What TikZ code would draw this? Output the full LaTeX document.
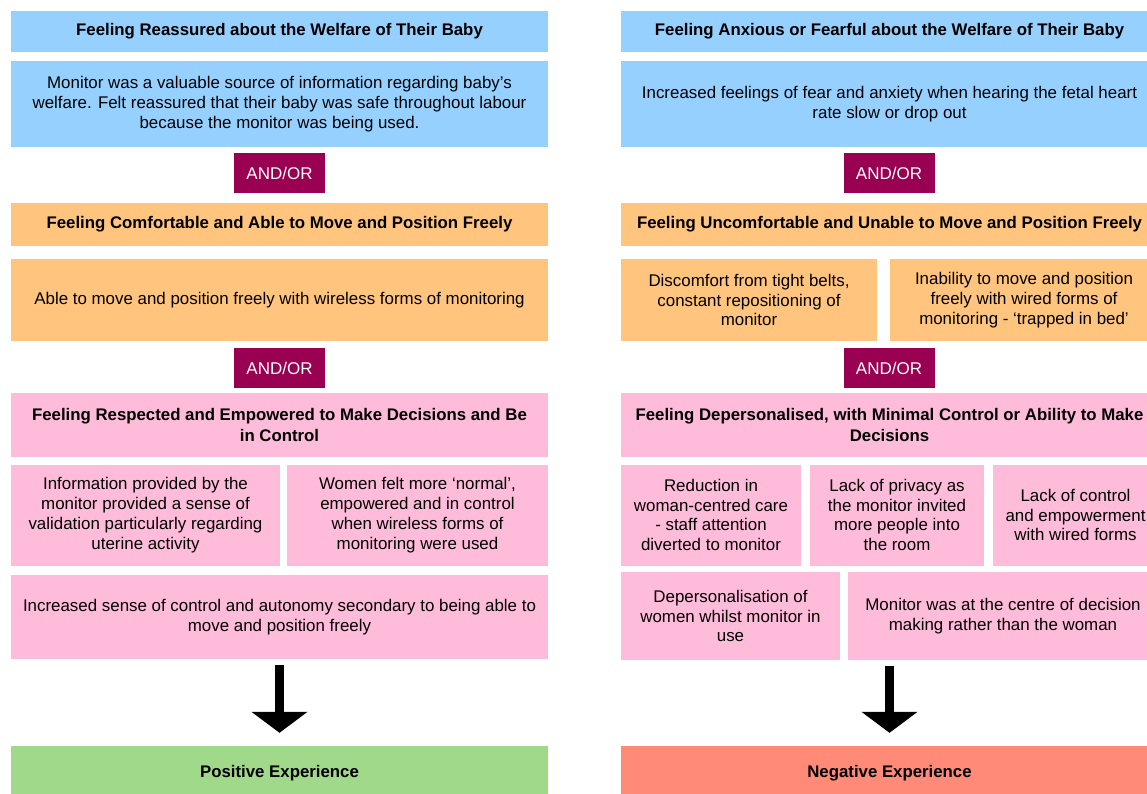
\documentclass[tikz,border=0pt]{standalone}
\usepackage{fontspec}
\setmainfont{Liberation Sans}
\usetikzlibrary{arrows.meta}
\definecolor{skyb}{HTML}{96D0FF}
\definecolor{apricot}{HTML}{FFC47D}
\definecolor{blush}{HTML}{FFBBDA}
\definecolor{plum}{HTML}{990052}
\definecolor{leaf}{HTML}{A0D989}
\definecolor{salmon}{HTML}{FF8A78}
\tikzset{
  cell/.style={fill=#1, inner sep=0pt, align=center, font=\fontsize{16.9}{19.8}\selectfont},
  head/.style={cell=#1, font=\bfseries\fontsize{16.8}{21}\selectfont},
  andor/.style={fill=plum, text=white, inner sep=0pt, minimum width=91, minimum height=40, font=\fontsize{17}{19}\selectfont},
  bigarrow/.style={line width=9pt, -{Triangle[width=55pt,length=21pt]}, shorten <=6pt, shorten >=13pt},
}
\begin{document}
\begin{tikzpicture}[x=1pt,y=-1pt]
  \useasboundingbox (0,0) rectangle (1147,793); \clip (0,0) rectangle (1147,793);
  \node[head=skyb, minimum width=537, minimum height=41] (lh1) at (279.5,31) {Feeling Reassured about the Welfare of Their Baby};
  \node[cell=skyb, minimum width=537, minimum height=86] (lb1) at (279.5,104) {Monitor was a valuable source of information regarding baby’s\\welfare. Felt reassured that their baby was safe throughout labour\\because the monitor was being used.};
  \node[andor] (la1) at (279.5,173) {AND/OR};
  \node[head=apricot, minimum width=537, minimum height=43] (lh2) at (279.5,224.5) {Feeling Comfortable and Able to Move and Position Freely};
  \node[cell=apricot, minimum width=537, minimum height=82] (lb2) at (279.5,300) {Able to move and position freely with wireless forms of monitoring};
  \node[andor] (la2) at (279.5,368) {AND/OR};
  \node[head=blush, minimum width=537, minimum height=64] (lh3) at (279.5,425) {Feeling Respected and Empowered to Make Decisions and Be\\in Control};
  \node[cell=blush, minimum width=269, minimum height=101] (lc1) at (145.5,515) {Information provided by the\\monitor provided a sense of\\validation particularly regarding\\uterine activity};
  \node[cell=blush, minimum width=261, minimum height=101] (lc2) at (417.5,515) {Women felt more ‘normal’,\\empowered and in control\\when wireless forms of\\monitoring were used};
  \node[cell=blush, minimum width=537, minimum height=84] (lc3) at (279.5,617) {Increased sense of control and autonomy secondary to being able to\\move and position freely};
  \node[head=leaf, minimum width=537, minimum height=54] (lpos) at (279.5,773) {Positive Experience};
  \draw[bigarrow] (lc3) -- (lpos);

  \node[head=skyb, minimum width=537, minimum height=41] (rh1) at (889.5,31) {Feeling Anxious or Fearful about the Welfare of Their Baby};
  \node[cell=skyb, minimum width=537, minimum height=86] (rb1) at (889.5,104) {Increased feelings of fear and anxiety when hearing the fetal heart\\rate slow or drop out};
  \node[andor] (ra1) at (889,173) {AND/OR};
  \node[head=apricot, minimum width=537, minimum height=43] (rh2) at (889.5,224.5) {Feeling Uncomfortable and Unable to Move and Position Freely};
  \node[cell=apricot, minimum width=256, minimum height=82] (rc1) at (749,300) {Discomfort from tight belts,\\constant repositioning of\\monitor};
  \node[cell=apricot, minimum width=268, minimum height=82] (rc2) at (1024,300) {Inability to move and position\\freely with wired forms of\\monitoring - ‘trapped in bed’};
  \node[andor] (ra2) at (889,368) {AND/OR};
  \node[head=blush, minimum width=537, minimum height=64] (rh3) at (889.5,425) {Feeling Depersonalised, with Minimal Control or Ability to Make\\Decisions};
  \node[cell=blush, minimum width=180, minimum height=101] (rd1) at (711,515) {Reduction in\\woman-centred care\\- staff attention\\diverted to monitor};
  \node[cell=blush, minimum width=174, minimum height=101] (rd2) at (897,515) {Lack of privacy as\\the monitor invited\\more people into\\the room};
  \node[cell=blush, minimum width=165, minimum height=101] (rd3) at (1075.5,515) {Lack of control\\and empowerment\\with wired forms};
  \node[cell=blush, minimum width=219, minimum height=88] (re1) at (730.5,616) {Depersonalisation of\\women whilst monitor in\\use};
  \node[cell=blush, minimum width=310, minimum height=88] (re2) at (1003,616) {Monitor was at the centre of decision\\making rather than the woman};
  \node[head=salmon, minimum width=537, minimum height=54] (rneg) at (889.5,773) {Negative Experience};
  \draw[bigarrow] (rneg.north |- re2.south) -- (rneg.north);
\end{tikzpicture}
\end{document}
